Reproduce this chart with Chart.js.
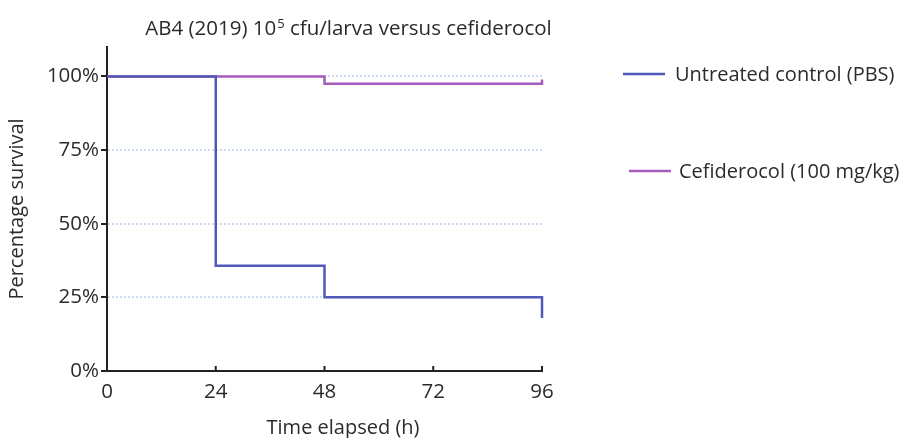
<!DOCTYPE html>
<html>
<head>
<meta charset="utf-8">
<script src="https://cdn.jsdelivr.net/npm/chart.js@4/dist/chart.umd.min.js"></script>
<style>
  html, body { margin: 0; padding: 0; background: #fff; }
</style>
</head>
<body>
<canvas id="survival-chart" width="907" height="438"></canvas>
<script>
// Kaplan-Meier style survival data
const controlTimes = [0, 24, 48, 96];
const controlSurvival = [100, 35.7, 25, 18];
const cefTimes = [0, 48, 96];
const cefSurvival = [100, 97.5, 99];

const seriesLabels = ['Untreated control (PBS)', 'Cefiderocol (100 mg/kg)'];
const xTickValues = [0, 24, 48, 72, 96];
const yTickValues = [0, 25, 50, 75, 100];

const titleParts = ['AB4 (2019) 10', '5', ' cfu/larva versus cefiderocol'];
const xAxisTitle = 'Time elapsed (h)';
const yAxisTitle = 'Percentage survival';

const FONT = '"Open Sans", "DejaVu Sans", sans-serif';
const textColor = '#2b2b2b';
const axisColor = '#222';

function toPoints(xs, ys) {
    return xs.map((x, i) => ({ x: x, y: ys[i] }));
}

// title, legend, x-axis title and the small inner tick marks
const overlayText = {
    id: 'overlayText',
    afterDraw(chart) {
        const ctx = chart.ctx;
        const xs = chart.scales.x;
        const ys = chart.scales.y;
        ctx.save();

        ctx.strokeStyle = axisColor;
        ctx.lineWidth = 2;
        xs.ticks.forEach(t => {
            if (t.value === 0) return;
            const px = xs.getPixelForValue(t.value);
            ctx.beginPath();
            ctx.moveTo(px, ys.bottom);
            ctx.lineTo(px, ys.bottom - 5);
            ctx.stroke();
        });

        ctx.fillStyle = textColor;
        ctx.textBaseline = 'alphabetic';
        ctx.textAlign = 'left';

        // title with superscript
        const big = '20.5px ' + FONT;
        const small = '13px ' + FONT;
        ctx.font = big;
        const w1 = ctx.measureText(titleParts[0]).width;
        const w3 = ctx.measureText(titleParts[2]).width;
        ctx.font = small;
        const w2 = ctx.measureText(titleParts[1]).width;
        let tx = 348 - (w1 + w2 + w3) / 2;
        const ty = 35;
        ctx.font = big;
        ctx.fillText(titleParts[0], tx, ty);
        tx += w1;
        ctx.font = small;
        ctx.fillText(titleParts[1], tx + 1, ty - 7);
        tx += w2 + 1;
        ctx.font = big;
        ctx.fillText(titleParts[2], tx, ty);

        // x axis title
        ctx.font = '20px ' + FONT;
        ctx.textAlign = 'center';
        ctx.textBaseline = 'middle';
        ctx.fillText(xAxisTitle, 343, 428);

        // legend
        const legendPos = [
            { x1: 623, x2: 665, tx: 675, y: 74 },
            { x1: 629, x2: 671, tx: 679, y: 171 }
        ];
        ctx.textAlign = 'left';
        chart.data.datasets.forEach((ds, i) => {
            const p = legendPos[i];
            ctx.strokeStyle = ds.borderColor;
            ctx.lineWidth = 2.5;
            ctx.beginPath();
            ctx.moveTo(p.x1, p.y);
            ctx.lineTo(p.x2, p.y);
            ctx.stroke();
            ctx.fillStyle = textColor;
            ctx.fillText(ds.label, p.tx, p.y + 1);
        });

        ctx.restore();
    }
};

const ctx = document.getElementById('survival-chart').getContext('2d');

const survivalChart = new Chart(ctx, {
    type: 'line',
    data: {
        datasets: [{
            label: seriesLabels[0],
            data: toPoints(controlTimes, controlSurvival),
            borderColor: '#5059b6',
            borderWidth: 2.5,
            stepped: true,
            pointRadius: 0,
            fill: false,
            clip: 6
        }, {
            label: seriesLabels[1],
            data: toPoints(cefTimes, cefSurvival),
            borderColor: '#a65cbd',
            borderWidth: 2.5,
            stepped: true,
            pointRadius: 0,
            fill: false,
            clip: 6
        }]
    },
    options: {
        responsive: false,
        animation: false,
        layout: {
            padding: { top: 47, right: 365, left: 0, bottom: 0 }
        },
        plugins: {
            legend: { display: false },
            title: { display: false },
            tooltip: { enabled: false }
        },
        scales: {
            x: {
                type: 'linear',
                min: 0,
                max: 96,
                afterBuildTicks: scale => {
                    scale.ticks = xTickValues.map(v => ({ value: v }));
                },
                afterFit: scale => { scale.height = 67; },
                grid: { display: false, drawTicks: false },
                border: { color: axisColor, width: 2 },
                ticks: {
                    padding: 9,
                    color: textColor,
                    font: { family: FONT, size: 20.5 },
                    maxRotation: 0
                }
            },
            y: {
                min: 0,
                max: 110,
                afterBuildTicks: scale => {
                    scale.ticks = yTickValues.map(v => ({ value: v }));
                },
                afterFit: scale => { scale.width = 107; },
                grid: {
                    color: c => (c.tick && c.tick.value === 0) ? 'rgba(0,0,0,0)' : '#cddaf0',
                    lineWidth: 2,
                    drawTicks: true,
                    tickLength: 6,
                    tickColor: axisColor,
                    tickWidth: 2
                },
                border: { color: axisColor, width: 2, dash: [2, 2] },
                ticks: {
                    padding: 2,
                    color: textColor,
                    font: { family: FONT, size: 20.5 },
                    callback: v => v + '%'
                },
                title: {
                    display: true,
                    text: yAxisTitle,
                    color: textColor,
                    font: { family: FONT, size: 20 },
                    padding: { top: 5, bottom: 0 }
                }
            }
        }
    },
    plugins: [overlayText]
});
</script>
</body>
</html>
